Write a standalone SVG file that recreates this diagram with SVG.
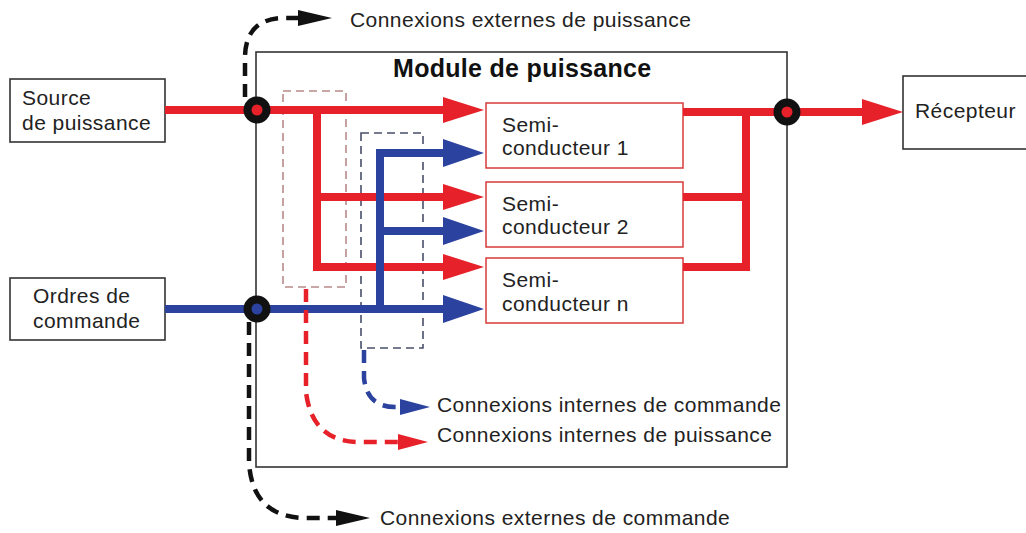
<svg xmlns="http://www.w3.org/2000/svg" width="1026" height="533" viewBox="0 0 1026 533">
<defs>
<style>
.t{font-family:"Liberation Sans",Arial,sans-serif;font-size:21px;letter-spacing:0.45px;fill:#222}
.tb{font-family:"Liberation Sans",Arial,sans-serif;font-size:25px;font-weight:bold;letter-spacing:0.3px;fill:#111}
.box{fill:#fff;stroke:#333;stroke-width:1.6}
.semi{fill:#fff;stroke:#d83a3a;stroke-width:1.5}
.red{fill:none;stroke:#e62129;stroke-width:8;stroke-linejoin:miter}
.blue{fill:none;stroke:#2b429f;stroke-width:8;stroke-linejoin:miter}
.dk{fill:none;stroke:#111;stroke-width:4.5;stroke-dasharray:13 8}
.dr{fill:none;stroke:#e62129;stroke-width:4.5;stroke-dasharray:13 8}
.db{fill:none;stroke:#2b429f;stroke-width:4.5;stroke-dasharray:13 8}
</style>
<marker id="aR" markerUnits="userSpaceOnUse" markerWidth="41" markerHeight="26" refX="0" refY="13" orient="auto" viewBox="0 0 41 26"><path d="M0,0 L41,13 L0,26 z" fill="#e62129"/></marker>
<marker id="aB" markerUnits="userSpaceOnUse" markerWidth="41" markerHeight="28" refX="0" refY="14" orient="auto" viewBox="0 0 41 28"><path d="M0,0 L41,14 L0,28 z" fill="#2b429f"/></marker>
<marker id="sK" markerUnits="userSpaceOnUse" markerWidth="34" markerHeight="16" refX="0" refY="8" orient="auto" viewBox="0 0 34 16"><path d="M0,0 L34,8 L0,16 z" fill="#111"/></marker>
<marker id="sR" markerUnits="userSpaceOnUse" markerWidth="30" markerHeight="16" refX="0" refY="8" orient="auto" viewBox="0 0 30 16"><path d="M0,0 L30,8 L0,16 z" fill="#e62129"/></marker>
<marker id="sB" markerUnits="userSpaceOnUse" markerWidth="30" markerHeight="16" refX="0" refY="8" orient="auto" viewBox="0 0 30 16"><path d="M0,0 L30,8 L0,16 z" fill="#2b429f"/></marker>
</defs>
<rect width="1026" height="533" fill="#fff"/>

<g id="module">
<rect class="box" x="256" y="52" width="531" height="415" stroke-width="1.8"/>
<text class="tb" x="393" y="77">Module de puissance</text>
</g>

<g id="source">
<rect class="box" x="10" y="79" width="155" height="63"/>
<text class="t" x="22" y="105">Source</text>
<text class="t" x="22" y="130">de puissance</text>
</g>

<g id="ordres">
<rect class="box" x="10" y="278" width="155" height="62"/>
<text class="t" x="33" y="303">Ordres de</text>
<text class="t" x="33" y="328">commande</text>
</g>

<g id="recepteur">
<rect class="box" x="903" y="76" width="140" height="73"/>
<text class="t" x="915" y="118">Récepteur</text>
</g>

<g id="semi1">
<rect class="semi" x="486" y="103" width="197" height="65"/>
<text class="t" x="502" y="132">Semi-</text>
<text class="t" x="502" y="155">conducteur 1</text>
</g>
<g id="semi2">
<rect class="semi" x="486" y="182" width="197" height="65"/>
<text class="t" x="502" y="211">Semi-</text>
<text class="t" x="502" y="234">conducteur 2</text>
</g>
<g id="semin">
<rect class="semi" x="486" y="258" width="197" height="65"/>
<text class="t" x="502" y="287">Semi-</text>
<text class="t" x="502" y="311">conducteur n</text>
</g>

<g id="zones">
<rect x="283" y="91" width="63" height="196" fill="none" stroke="#b98a8a" stroke-width="1.6" stroke-dasharray="8 5"/>
<rect x="361" y="133" width="62" height="215" fill="none" stroke="#4a4f6a" stroke-width="1.6" stroke-dasharray="8 5"/>
</g>

<g id="connectors">
<path class="red" d="M165,110 H443" marker-end="url(#aR)"/>
<path class="red" d="M317,110 V267 H443" marker-end="url(#aR)"/>
<path class="red" d="M317,197 H443" marker-end="url(#aR)"/>
<path class="red" d="M683,267 H746 V112"/>
<path class="red" d="M683,197 H746"/>
<path class="red" d="M683,112 H862" marker-end="url(#aR)"/>
<path class="blue" d="M165,309 H443" marker-end="url(#aB)"/>
<path class="blue" d="M380,309 V153 H443" marker-end="url(#aB)"/>
<path class="blue" d="M380,231 H443" marker-end="url(#aB)"/>

<path class="dk" d="M245,97 V58 Q245,18 285,18 H298" marker-end="url(#sK)"/>
<path class="dk" d="M249,322 V462 Q252,517 305,518 H336" marker-end="url(#sK)"/>
<path class="dr" d="M306,289 V392 Q312,442 360,442 H398" marker-end="url(#sR)"/>
<path class="db" d="M364,350 V378 Q367,407 395,407 H400" marker-end="url(#sB)"/>

<circle cx="257" cy="110" r="9.5" fill="#e62129" stroke="#111" stroke-width="8"/>
<circle cx="257" cy="309" r="9.5" fill="#2b429f" stroke="#111" stroke-width="8"/>
<circle cx="787" cy="112" r="9.5" fill="#e62129" stroke="#111" stroke-width="8"/>
</g>

<g id="labels">
<text class="t" x="350" y="27">Connexions externes de puissance</text>
<text class="t" x="437" y="412">Connexions internes de commande</text>
<text class="t" x="437" y="442">Connexions internes de puissance</text>
<text class="t" x="380" y="525">Connexions externes de commande</text>
</g>
</svg>
